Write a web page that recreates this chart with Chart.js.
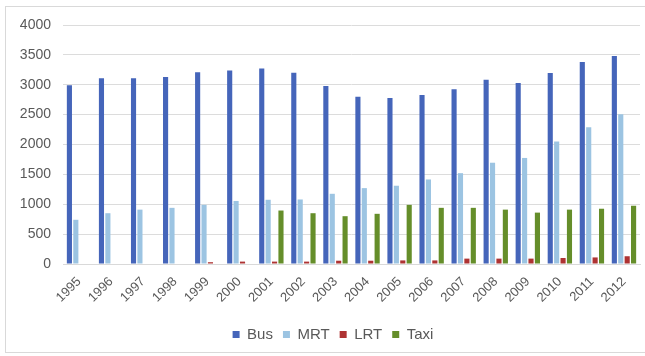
<!DOCTYPE html>
<html>
<head>
<meta charset="utf-8">
<script src="https://cdn.jsdelivr.net/npm/chart.js@4"></script>
<style>
  html, body { margin: 0; padding: 0; background: #ffffff; }
  #wrap { position: relative; width: 645px; height: 356px; }
  #frame { position: absolute; left: 5px; top: 6px; width: 645px; height: 347px; border: 1px solid #d9d9d9; box-sizing: border-box; pointer-events: none; }
  canvas { position: absolute; left: 0; top: 0; }
</style>
</head>
<body>
<div id="wrap">
  <canvas id="c" width="645" height="356"></canvas>
  <div id="frame"></div>
</div>
<script>
const years = ["1995","1996","1997","1998","1999","2000","2001","2002","2003","2004","2005","2006","2007","2008","2009","2010","2011","2012"];
const bus  = [2990, 3110, 3110, 3130, 3210, 3240, 3270, 3200, 2980, 2800, 2780, 2830, 2925, 3085, 3030, 3195, 3380, 3480];
const mrt  = [740, 850, 910, 940, 990, 1055, 1075, 1080, 1175, 1270, 1310, 1415, 1520, 1695, 1775, 2050, 2290, 2505];
const lrt  = [0, 0, 0, 0, 30, 40, 40, 40, 55, 55, 60, 60, 90, 90, 90, 100, 110, 130];
const taxi = [0, 0, 0, 0, 0, 0, 895, 850, 800, 840, 990, 940, 940, 910, 860, 910, 925, 975];
const yTicks = [0, 500, 1000, 1500, 2000, 2500, 3000, 3500, 4000];

const textColor = '#595959';
const fontFamily = '"Liberation Sans", Arial, sans-serif';

const legendShift = {
  id: 'legendShift',
  afterLayout(chart) {
    if (chart.legend) { chart.legend.left += 9; chart.legend.right += 9; }
  }
};

new Chart(document.getElementById('c'), {
  type: 'bar',
  data: {
    labels: years,
    datasets: [
      { label: 'Bus',  data: bus,  backgroundColor: '#4565BA' },
      { label: 'MRT',  data: mrt,  backgroundColor: '#9CC4E2' },
      { label: 'LRT',  data: lrt,  backgroundColor: '#AE3333' },
      { label: 'Taxi', data: taxi, backgroundColor: '#658E2A' }
    ]
  },
  plugins: [legendShift],
  options: {
    responsive: false,
    animation: false,
    devicePixelRatio: 1,
    datasets: { bar: { categoryPercentage: 0.8, barPercentage: 0.8 } },
    layout: { padding: { left: 8, right: 5, top: 25, bottom: 4 } },
    plugins: {
      legend: {
        position: 'bottom',
        labels: {
          boxWidth: 7, boxHeight: 7, padding: 10,
          color: textColor,
          font: { family: fontFamily, size: 15 }
        }
      },
      tooltip: { enabled: false }
    },
    scales: {
      x: {
        grid: { display: false },
        border: { display: true, color: '#d9d9d9' },
        ticks: {
          color: textColor, font: { family: fontFamily, size: 13 },
          maxRotation: 45, minRotation: 45, padding: 2, autoSkip: false
        },
        afterFit: (s) => { s.height = 53; }
      },
      y: {
        min: 0, max: 4000,
        afterBuildTicks: (s) => { s.ticks = yTicks.map(v => ({ value: v })); },
        grid: { color: '#dcdcdc', drawTicks: false },
        border: { display: false },
        ticks: {
          color: textColor, font: { family: fontFamily, size: 14 }, padding: 12,
          callback: (v) => String(v)
        },
        afterFit: (s) => { s.width = 55; }
      }
    }
  }
});
</script>
</body>
</html>
